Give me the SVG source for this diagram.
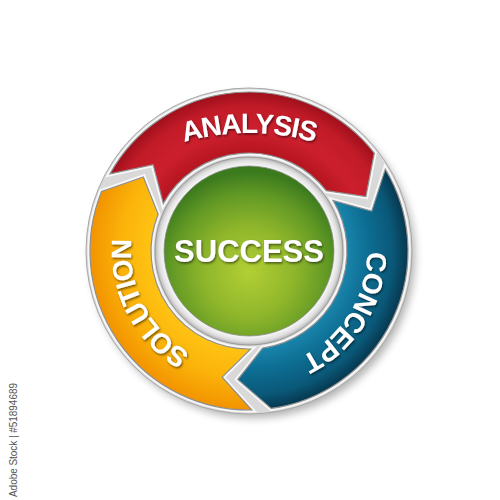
<svg xmlns="http://www.w3.org/2000/svg" xmlns:xlink="http://www.w3.org/1999/xlink" width="500" height="500" viewBox="0 0 500 500">
<defs>
<style>
.lbl{font-family:"Liberation Sans",Arial,sans-serif;font-weight:bold;fill:#ffffff}
.band{stroke:#8f8f8f;stroke-width:1.2;stroke-linejoin:miter}
.halo{fill:none;stroke:#f7f7f7;stroke-width:5;stroke-linejoin:miter}
.wm{font-family:"Liberation Sans",Arial,sans-serif;font-size:10px;fill:#555555}
</style>
<filter id="shadow" x="-20%" y="-20%" width="140%" height="140%"><feGaussianBlur stdDeviation="4"/></filter>
<filter id="ts" x="-20%" y="-40%" width="140%" height="180%"><feDropShadow dx="1" dy="1.5" stdDeviation="0.8" flood-color="#000000" flood-opacity="0.55"/></filter>
<radialGradient id="gRed" gradientUnits="userSpaceOnUse" cx="249" cy="251" r="160">
<stop offset="0.6" stop-color="#b3141f"/><stop offset="0.75" stop-color="#cc1f2d"/><stop offset="0.9" stop-color="#c21b28"/><stop offset="1" stop-color="#9c0f1a"/>
</radialGradient>
<radialGradient id="gBlue" gradientUnits="userSpaceOnUse" cx="249" cy="251" r="160">
<stop offset="0.6" stop-color="#1a86ad"/><stop offset="0.75" stop-color="#0d6d92"/><stop offset="0.9" stop-color="#0a5878"/><stop offset="1" stop-color="#06354c"/>
</radialGradient>
<radialGradient id="gYel" gradientUnits="userSpaceOnUse" cx="249" cy="251" r="160">
<stop offset="0.6" stop-color="#ffc414"/><stop offset="0.8" stop-color="#fbb30a"/><stop offset="1" stop-color="#f29200"/>
</radialGradient>
<radialGradient id="gGreen" gradientUnits="userSpaceOnUse" cx="249" cy="272" r="100">
<stop offset="0" stop-color="#b2cf34"/><stop offset="0.45" stop-color="#8fb62b"/><stop offset="0.8" stop-color="#5f9724"/><stop offset="1" stop-color="#3c7a1e"/>
</radialGradient>
<radialGradient id="gRing" gradientUnits="userSpaceOnUse" cx="249" cy="251" r="95">
<stop offset="0.88" stop-color="#ffffff"/><stop offset="0.95" stop-color="#e0e0e0"/><stop offset="1" stop-color="#a9a9a9"/>
</radialGradient>
<path id="pRed" d="M109.94,173.91 A159,159 0 0 1 374.29,153.11 L365.91,196.48 L326.22,190.67 A98,98 0 0 0 163.29,203.49 L153.13,164.68 Z"/>
<path id="pBlue" d="M385.29,169.11 A159,159 0 0 1 271.13,408.45 L237.76,379.51 L262.64,348.05 A98,98 0 0 0 333.00,200.53 L371.69,211.14 Z"/>
<path id="pYel" d="M251.77,409.98 A159,159 0 0 1 101.58,191.44 L143.33,177.01 L158.14,214.29 A98,98 0 0 0 250.71,348.99 L222.18,377.18 Z"/>
<path id="tA" d="M15,367 A234,234 0 0 1 483,367"/>
<path id="tC" d="M311.53,150.93 A118,118 0 0 1 186.47,351.07"/>
<path id="tS" d="M303.49,355.67 A118,118 0 0 1 194.51,146.33"/>
</defs>
<rect width="500" height="500" fill="#ffffff"/>
<g id="base">
<circle cx="253" cy="256" r="162" fill="#000000" opacity="0.3" filter="url(#shadow)"/>
<circle cx="249" cy="251" r="163" fill="#d9d9d9" stroke="#a8a8a8" stroke-width="1"/>
<use xlink:href="#pRed" class="halo"/>
<use xlink:href="#pBlue" class="halo"/>
<use xlink:href="#pYel" class="halo"/>
</g>
<g id="connectors"></g>
<g id="analysis">
<use xlink:href="#pRed" class="band" fill="url(#gRed)"/>
<text class="lbl" font-size="28" letter-spacing="-0.9" text-anchor="middle" filter="url(#ts)"><textPath xlink:href="#tA" startOffset="50%">ANALYSIS</textPath></text>
</g>
<g id="concept">
<use xlink:href="#pBlue" class="band" fill="url(#gBlue)"/>
<text class="lbl" font-size="28" letter-spacing="-0.8" text-anchor="middle" filter="url(#ts)"><textPath xlink:href="#tC" startOffset="50%">CONCEPT</textPath></text>
</g>
<g id="solution">
<use xlink:href="#pYel" class="band" fill="url(#gYel)"/>
<text class="lbl" font-size="28" letter-spacing="-1.3" text-anchor="middle" filter="url(#ts)"><textPath xlink:href="#tS" startOffset="50%">SOLUTION</textPath></text>
</g>
<g id="success">
<circle cx="249" cy="251" r="94" fill="url(#gRing)" stroke="#9a9a9a" stroke-width="1"/>
<circle cx="249" cy="251" r="85" fill="url(#gGreen)" stroke="#8a8a8a" stroke-width="0.8"/>
<text class="lbl" x="249" y="261.5" font-size="31" text-anchor="middle" filter="url(#ts)">SUCCESS</text>
</g>
<text class="wm" transform="translate(17,497) rotate(-90)" textLength="114">Adobe Stock | #51894689</text>
</svg>
